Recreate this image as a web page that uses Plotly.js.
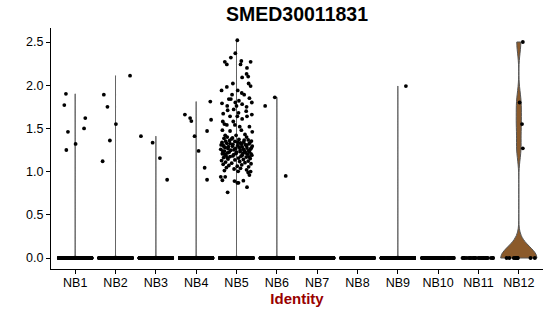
<!DOCTYPE html>
<html><head><meta charset="utf-8">
<script src="https://cdn.plot.ly/plotly-3.0.1.min.js"></script>
<style>html,body{margin:0;padding:0;background:#fff}#chart{width:550px;height:316px}</style>
</head><body><div id="chart"></div>
<script>
// ---- data ----
const clusters = ['NB1','NB2','NB3','NB4','NB5','NB6','NB7','NB8','NB9','NB10','NB11','NB12'];
const yTicks = [0, 0.5, 1.0, 1.5, 2.0, 2.5];
// number of cells with zero expression in each cluster (estimated)
const zeroCounts = [600, 600, 550, 550, 1200, 500, 400, 400, 400, 80, 30, 9];

// non-zero expression values and their horizontal jitter (fraction of a category)
const nb1Vals = [1.90, 1.77, 1.62, 1.50, 1.46, 1.32, 1.25];
const nb1Jit  = [-0.23, -0.27, 0.25, 0.22, -0.18, 0.01, -0.22];
const nb2Vals = [2.11, 1.89, 1.75, 1.55, 1.36, 1.12];
const nb2Jit  = [0.36, -0.29, -0.20, 0.01, -0.14, -0.32];
const nb3Vals = [1.41, 1.335, 1.157, 0.906];
const nb3Jit  = [-0.37, -0.08, 0.10, 0.28];
const nb4Vals = [1.81, 1.66, 1.62, 1.585, 1.60, 1.47, 1.41, 1.24, 1.045, 0.906];
const nb4Jit  = [0.35, -0.28, -0.15, -0.12, 0.37, 0.27, -0.04, 0.06, 0.21, 0.27];
const nb5Vals = [
  2.52,2.37,2.32,2.27,2.24,2.28,2.24,2.27,2.20,2.13,2.10,2.09,2.02,2.02,1.99,1.98,1.94,1.94,1.91,1.89,
  1.89,1.84,1.85,1.80,1.82,1.80,1.76,1.84,1.79,1.78,1.75,1.70,1.76,1.72,1.68,1.64,1.71,1.67,1.64,1.66,
  1.64,1.61,1.58,1.55,1.58,1.54,1.54,1.52,1.52,1.48,1.47,1.48,1.46,1.43,1.40,1.42,1.42,1.40,1.39,
  1.385,1.372,1.367,1.361,1.354,1.349,1.343,1.338,1.331,1.327,
  1.322,1.316,1.311,1.305,1.301,1.296,1.290,1.286,1.279,1.273,
  1.268,1.262,1.258,1.251,1.247,1.240,1.236,1.229,1.224,1.218,
  1.213,1.207,1.202,1.196,1.190,1.185,1.179,1.174,1.168,1.163,
  1.157,1.152,1.146,1.140,1.135,1.128,1.122,1.117,1.110,1.104,
  1.098,1.091,1.085,1.078,1.071,1.063,1.055,1.047,1.038,1.030,
  1.021,1.012,1.003,
  1.378,1.365,1.352,1.340,1.333,1.325,1.318,1.309,1.303,1.294,
  1.287,1.281,1.275,1.266,1.259,1.253,1.244,1.238,1.231,1.226,
  1.219,1.211,1.204,1.198,1.188,1.181,1.171,1.160,
  1.00,0.99,0.96,0.94,0.94,0.90,0.895,0.89,0.87,0.87,0.82,0.76
];
const nb5Jit = [
  0.02,-0.03,-0.14,-0.29,-0.24,0.12,0.10,0.35,0.26,0.25,0.29,0.14,-0.09,0.30,0.35,-0.24,-0.37,0.03,0.13,0.19,
  -0.11,-0.19,0.32,0.38,0.06,-0.03,0.00,-0.14,-0.36,0.14,0.25,0.24,-0.23,-0.07,0.05,0.02,-0.22,-0.33,0.26,0.38,
  -0.16,0.14,-0.34,-0.30,-0.08,-0.04,-0.24,0.32,0.08,0.12,-0.16,-0.35,0.39,0.21,0.25,-0.01,-0.28,-0.23,-0.10,
  -0.31,0.06,0.29,-0.17,0.37,-0.04,0.18,-0.36,0.10,-0.24,
  0.31,-0.09,0.22,-0.33,0.03,0.39,-0.20,0.14,-0.28,0.26,
  -0.02,0.35,-0.39,0.09,-0.14,0.20,-0.30,0.32,0.00,-0.22,
  0.16,-0.35,0.27,-0.07,0.38,-0.26,0.11,-0.16,0.24,-0.32,
  0.05,0.34,-0.21,0.17,-0.04,-0.37,0.29,0.08,-0.27,0.21,
  -0.12,0.36,-0.33,0.13,-0.19,0.02,0.30,-0.25,0.10,-0.06,
  0.25,-0.30,0.04,
  -0.12,0.19,-0.27,0.03,0.33,-0.16,0.12,-0.38,0.25,-0.10,
  -0.31,0.07,0.37,-0.21,0.17,-0.06,0.30,-0.34,0.09,-0.18,
  0.23,-0.01,0.36,-0.29,0.14,-0.09,0.31,-0.23,
  0.35,0.29,0.32,-0.39,-0.28,-0.35,0.17,-0.05,0.02,0.05,0.26,-0.22
];
const nb6Vals = [1.86, 1.76, 0.95];
const nb6Jit  = [-0.05, -0.29, 0.22];
const nb7Vals = [], nb7Jit = [];
const nb8Vals = [], nb8Jit = [];
const nb9Vals = [1.99];
const nb9Jit  = [0.20];
const nb10Vals = [], nb10Jit = [];
const nb11Vals = [], nb11Jit = [];
const nb12Vals = [2.50, 1.80, 1.55, 1.27];
const nb12Jit  = [0.10, 0.02, 0.08, 0.10];

const fillColors = ['#F8766D','#DE8C00','#B79F00','#7CAE00','#00BA38','#00C08B',
                    '#00BFC4','#00B4F0','#619CFF','#C77CFF','#F564E3','#8B5A2B'];

// ---- build traces ----
const allVals = [nb1Vals,nb2Vals,nb3Vals,nb4Vals,nb5Vals,nb6Vals,nb7Vals,nb8Vals,nb9Vals,nb10Vals,nb11Vals,nb12Vals];
const allJit  = [nb1Jit,nb2Jit,nb3Jit,nb4Jit,nb5Jit,nb6Jit,nb7Jit,nb8Jit,nb9Jit,nb10Jit,nb11Jit,nb12Jit];

const FONT = '"Liberation Sans", Arial, Helvetica, sans-serif';
const traces = [];

// violins (zeros + non-zero values)
clusters.forEach((c, g) => {
  const vals = allVals[g];
  if (!vals.length) return;
  const y = new Array(zeroCounts[g]).fill(0).concat(vals);
  traces.push({
    type: 'violin', name: c, x0: g, y: y,
    width: 0.9, scalemode: 'width', spanmode: 'hard',
    bandwidth: g === 11 ? 0.13 : 0.008,
    points: false, box: {visible: false}, meanline: {visible: false},
    fillcolor: fillColors[g], opacity: 1,
    line: {color: '#555555', width: 1},
    hoverinfo: 'skip', showlegend: false
  });
});

// zero-expression cells, jittered by the library
const zx = [], zy = [];
clusters.forEach((c, g) => {
  for (let k = 0; k < zeroCounts[g]; k++) { zx.push(g); zy.push(0); }
});
traces.push({
  type: 'box', x: zx, y: zy, width: 0.9,
  boxpoints: 'all', jitter: 0.9, pointpos: 0,
  fillcolor: 'rgba(0,0,0,0)', line: {width: 0, color: 'rgba(0,0,0,0)'},
  marker: {color: '#000000', size: 4, line: {width: 0}},
  hoverinfo: 'skip', showlegend: false
});

// non-zero cells
const px = [], py = [];
clusters.forEach((c, g) => {
  allVals[g].forEach((v, i) => { px.push(g + allJit[g][i]); py.push(v); });
});
traces.push({
  type: 'scatter', mode: 'markers', x: px, y: py,
  marker: {color: '#000000', size: 3.8},
  hoverinfo: 'skip', showlegend: false
});

const layout = {
  width: 550, height: 316,
  margin: {l: 51, r: 7, t: 28, b: 47, pad: 0},
  paper_bgcolor: '#ffffff', plot_bgcolor: '#ffffff',
  showlegend: false,
  font: {family: FONT, color: '#000000'},
  title: {
    text: 'SMED30011831',
    font: {family: FONT, size: 19.5, weight: 700, color: '#000000'},
    x: 0.5, xref: 'paper', xanchor: 'center',
    y: 0.955, yref: 'container', yanchor: 'middle'
  },
  xaxis: {
    range: [-0.6, 11.6], tickmode: 'array',
    tickvals: clusters.map((c, i) => i), ticktext: clusters,
    showgrid: false, zeroline: false,
    showline: true, linecolor: '#000000', linewidth: 1,
    ticks: 'outside', ticklen: 4, tickwidth: 1, tickcolor: '#000000',
    ticklabelstandoff: -2,
    tickfont: {family: FONT, size: 12.5, color: '#000000'},
    title: {text: 'Identity', standoff: 2,
            font: {family: FONT, size: 15, weight: 700, color: '#990000'}}
  },
  yaxis: {
    range: [-0.127, 2.662], tickmode: 'array', tickvals: yTicks,
    tickformat: '.1f',
    showgrid: false, zeroline: false,
    showline: true, linecolor: '#000000', linewidth: 1,
    ticks: 'outside', ticklen: 4, tickwidth: 1, tickcolor: '#000000',
    tickfont: {family: FONT, size: 12.5, color: '#000000'}
  },
  violinmode: 'overlay', boxmode: 'overlay'
};

Plotly.newPlot('chart', traces, layout, {staticPlot: true, displayModeBar: false});
</script>
</body></html>
